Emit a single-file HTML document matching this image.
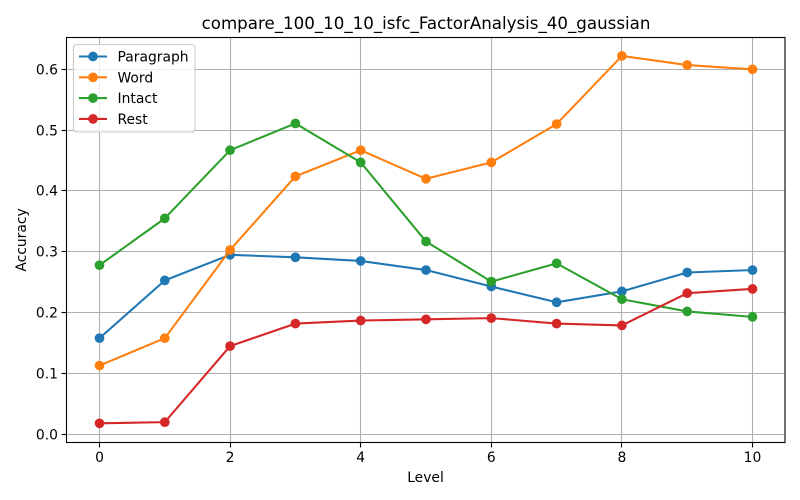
<!DOCTYPE html>
<html lang="en">
<head>
<meta charset="utf-8">
<title>compare_100_10_10_isfc_FactorAnalysis_40_gaussian</title>
<style>
html,body{margin:0;padding:0;background:#fff;}
svg{display:block;}
text{font-family:"DejaVu Sans",sans-serif;fill:#000;}
</style>
</head>
<body>
<svg id="chart" width="800" height="500" viewBox="0 0 800 500" xmlns="http://www.w3.org/2000/svg"></svg>
<script>
const levels = [0, 1, 2, 3, 4, 5, 6, 7, 8, 9, 10];
const paragraphValues = [0.158, 0.253, 0.295, 0.291, 0.285, 0.270, 0.243, 0.217, 0.235, 0.266, 0.270];
const wordValues = [0.113, 0.158, 0.303, 0.424, 0.467, 0.420, 0.447, 0.510, 0.622, 0.607, 0.600];
const intactValues = [0.278, 0.355, 0.467, 0.511, 0.447, 0.317, 0.251, 0.281, 0.222, 0.202, 0.193];
const restValues = [0.018, 0.020, 0.145, 0.182, 0.187, 0.189, 0.191, 0.182, 0.179, 0.232, 0.239];
const xTicks = [0, 2, 4, 6, 8, 10];
const yTicks = [0.0, 0.1, 0.2, 0.3, 0.4, 0.5, 0.6];
const seriesNames = ['Paragraph', 'Word', 'Intact', 'Rest'];
const seriesColors = ['#1f77b4', '#ff7f0e', '#2ca02c', '#d62728'];
const seriesValues = [paragraphValues, wordValues, intactValues, restValues];

const NS = 'http://www.w3.org/2000/svg';
const svg = document.getElementById('chart');
const plot = { left: 66.5, right: 785, top: 37.5, bottom: 442.5 };
const xScale = v => 99.5 + v * 65.3;
const yScale = v => 434.3 - v * 608.33;
const snap = p => Math.floor(p) + 0.5;

function make(tag, attrs, parent, text) {
  const el = document.createElementNS(NS, tag);
  for (const k in attrs) el.setAttribute(k, attrs[k]);
  if (text !== undefined) el.textContent = text;
  (parent || svg).appendChild(el);
  return el;
}

const background = make('rect', { x: 0, y: 0, width: 800, height: 500, fill: '#fff' });



const title = make('text', { x: 426, y: 29, 'font-size': 16.67, 'text-anchor': 'middle' }, svg, 'compare_100_10_10_isfc_FactorAnalysis_40_gaussian');



xTicks.forEach(t => {
  const x = snap(xScale(t));
  const grid = make('line', { x1: x, x2: x, y1: plot.top, y2: plot.bottom, stroke: '#b0b0b0', 'stroke-width': 1.1 });
  
  
  const tick = make('line', { x1: x, x2: x, y1: plot.bottom, y2: plot.bottom + 4.9, stroke: '#000', 'stroke-width': 1.1 });
  
  
  const label = make('text', { x: xScale(t), y: 462, 'font-size': 13.89, 'text-anchor': 'middle' }, svg, String(t));
  
  
});

yTicks.forEach(t => {
  const y = snap(yScale(t));
  const grid = make('line', { x1: plot.left, x2: plot.right, y1: y, y2: y, stroke: '#b0b0b0', 'stroke-width': 1.1 });
  
  
  const tick = make('line', { x1: plot.left - 4.9, x2: plot.left, y1: y, y2: y, stroke: '#000', 'stroke-width': 1.1 });
  
  
  const label = make('text', { x: 58, y: y + 5, 'font-size': 13.89, 'text-anchor': 'end' }, svg, t.toFixed(1));
  
  
});

seriesValues.forEach((vals, i) => {
  const g = make('g', {});
  
  
  const line = make('polyline', {
    points: vals.map((v, j) => xScale(levels[j]) + ',' + yScale(v)).join(' '),
    fill: 'none', stroke: seriesColors[i], 'stroke-width': 2.08, 'stroke-linejoin': 'round', 'stroke-linecap': 'square'
  }, g);
  
  
  vals.forEach((v, j) => {
    const pt = make('circle', { cx: xScale(levels[j]), cy: yScale(v), r: 4.86, fill: seriesColors[i] }, g);
    
    
  });
});

const frame = make('rect', { x: plot.left, y: plot.top, width: plot.right - plot.left, height: plot.bottom - plot.top, fill: 'none', stroke: '#000', 'stroke-width': 1.1 });



const xTitle = make('text', { x: 425.5, y: 482, 'font-size': 13.89, 'text-anchor': 'middle' }, svg, 'Level');



const yTitle = make('text', { x: 0, y: 0, 'font-size': 13.89, 'text-anchor': 'middle', transform: 'translate(26,240) rotate(-90)' }, svg, 'Accuracy');



const legend = make('g', {});


const legendBox = make('rect', { x: 73.5, y: 44.5, width: 121.5, height: 87.5, rx: 2.8, fill: '#fff', 'fill-opacity': 0.8, stroke: '#ccc', 'stroke-width': 1.1 }, legend);


seriesNames.forEach((name, i) => {
  const y = 56.5 + i * 20.8;
  const entry = make('g', {}, legend);
  
  
  make('line', { x1: 79, x2: 107, y1: y, y2: y, stroke: seriesColors[i], 'stroke-width': 2.08 }, entry);
  make('circle', { cx: 93, cy: y, r: 4.86, fill: seriesColors[i] }, entry);
  make('text', { x: 117.5, y: y + 5, 'font-size': 13.89 }, entry, name);
});
</script>
</body>
</html>
